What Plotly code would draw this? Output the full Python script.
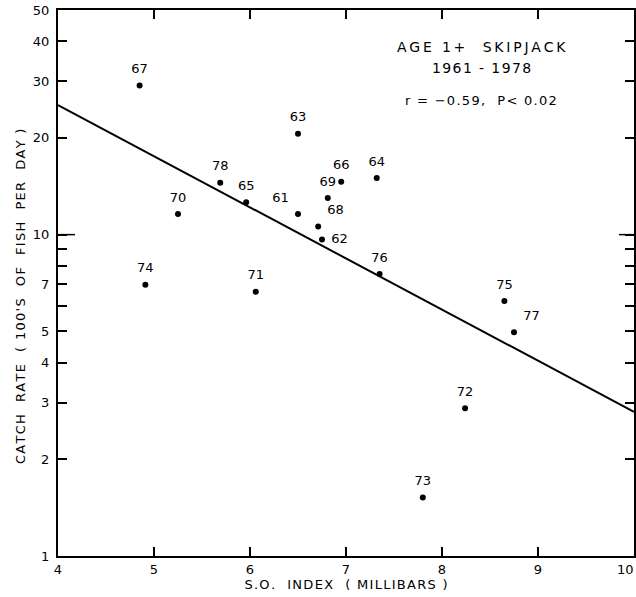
import plotly.graph_objects as go

# ---- data ----
years = ["67", "63", "78", "65", "70", "61", "74", "71", "68", "62", "69", "66", "64", "76", "75", "77", "72", "73"]
so_index = [4.85, 6.50, 5.69, 5.96, 5.25, 6.50, 4.91, 6.06, 6.71, 6.75, 6.81, 6.95, 7.32, 7.35, 8.65, 8.75, 8.24, 7.80]
catch_rate = [29.1, 20.6, 14.5, 12.6, 11.6, 11.6, 6.98, 6.64, 10.6, 9.66, 13.0, 14.6, 15.0, 7.54, 6.22, 4.97, 2.88, 1.52]
label_pos = ["top center", "top center", "top center", "top center", "top center", "top left",
             "top center", "top center", "top right", "middle right", "top center", "top center",
             "top center", "top center", "top center", "top right", "top center", "top center"]

fit_x = [4, 10]
fit_y = [25.3, 2.81]

x_ticks = [4, 5, 6, 7, 8, 9, 10]
x_ticklabels = ["4", "5", "6", "7", "8", "9", ""]
y_ticks = [1, 2, 3, 4, 5, 6, 7, 8, 9, 10, 20, 30, 40, 50]
y_ticklabels = ["1", "2", "3", "4", "5", "", "7", "", "", "10", "20", "30", "40", "50"]

title1 = "AGE 1+  SKIPJACK"
title2 = "1961 - 1978"
stat_text = "r = −0.59,  P< 0.02"
x_title = "S.O.  INDEX  ( MILLIBARS )"
y_title = "CATCH  RATE  ( 100'S  OF  FISH  PER  DAY )"

FONT = "DejaVu Sans"


def spread(s, sep="\u2009"):
    """mimic the wide letter spacing of the stencil lettering"""
    return sep.join(s)


fig = go.Figure()
fig.add_trace(go.Scatter(
    x=fit_x, y=fit_y, mode="lines",
    line=dict(color="black", width=2), hoverinfo="skip", showlegend=False))
fig.add_trace(go.Scatter(
    x=so_index, y=catch_rate, mode="markers",
    marker=dict(color="black", size=6), showlegend=False))
# year labels (invisible larger markers give the label offset)
fig.add_trace(go.Scatter(
    x=so_index, y=catch_rate, mode="markers+text",
    text=years, textposition=label_pos,
    textfont=dict(family=FONT, size=13, color="black"),
    marker=dict(color="rgba(0,0,0,0)", size=13),
    hoverinfo="skip", showlegend=False))

# longer tick marks at 10 on both vertical axes
for anchor, x0, x1 in [(4, 0, 17), (10, -15, 0)]:
    fig.add_shape(type="line", xref="x", yref="y", xsizemode="pixel", xanchor=anchor,
                  x0=x0, x1=x1, y0=10, y1=10, line=dict(color="black", width=1.5))

fig.add_annotation(x=0.735, y=0.933, xref="paper", yref="paper", xanchor="center", yanchor="middle",
                   showarrow=False, text=spread(title1), font=dict(family=FONT, size=14, color="black"))
fig.add_annotation(x=0.735, y=0.893, xref="paper", yref="paper", xanchor="center", yanchor="middle",
                   showarrow=False, text=spread(title2, "\u200a"), font=dict(family=FONT, size=14, color="black"))
fig.add_annotation(x=0.735, y=0.835, xref="paper", yref="paper", xanchor="center", yanchor="middle",
                   showarrow=False, text=spread(stat_text, "\u200a"), font=dict(family=FONT, size=13, color="black"))
# the "10" label at the right end of the x axis
fig.add_annotation(x=10, y=0, xref="x", yref="paper", xanchor="right", yanchor="top",
                   yshift=-4, xshift=2, showarrow=False,
                   text="10", font=dict(family=FONT, size=13, color="black"))
# y-axis title
fig.add_annotation(x=0, y=0.476, xref="paper", yref="paper", xanchor="center", yanchor="middle",
                   xshift=-38, textangle=-90, showarrow=False,
                   text=spread(y_title, "\u200a"), font=dict(family=FONT, size=13, color="black"))

fig.update_layout(
    width=636, height=597,
    margin=dict(l=58, r=2, t=10, b=41),
    paper_bgcolor="white", plot_bgcolor="white",
    font=dict(family=FONT, color="black"),
    xaxis=dict(range=[4, 10], tickvals=x_ticks, ticktext=x_ticklabels,
               ticks="inside", ticklen=9, tickwidth=1.5,
               tickcolor="black", showline=True, linecolor="black", linewidth=2,
               mirror="ticks", showgrid=False, zeroline=False, automargin=False,
               tickfont=dict(family=FONT, size=13),
               title=dict(text=spread(x_title, "\u200a"), font=dict(family=FONT, size=13), standoff=4)),
    yaxis=dict(type="log", range=[0, 1.69897], tickvals=y_ticks, ticktext=y_ticklabels,
               ticks="inside", ticklen=9, tickwidth=1.5, tickcolor="black",
               showline=True, linecolor="black", linewidth=2, mirror="ticks",
               showgrid=False, zeroline=False, automargin=False, ticklabelstandoff=4,
               tickfont=dict(family=FONT, size=13)),
)

fig.write_html("out.html", config={"displayModeBar": False},
               post_script="document.body.style.margin='0';")
